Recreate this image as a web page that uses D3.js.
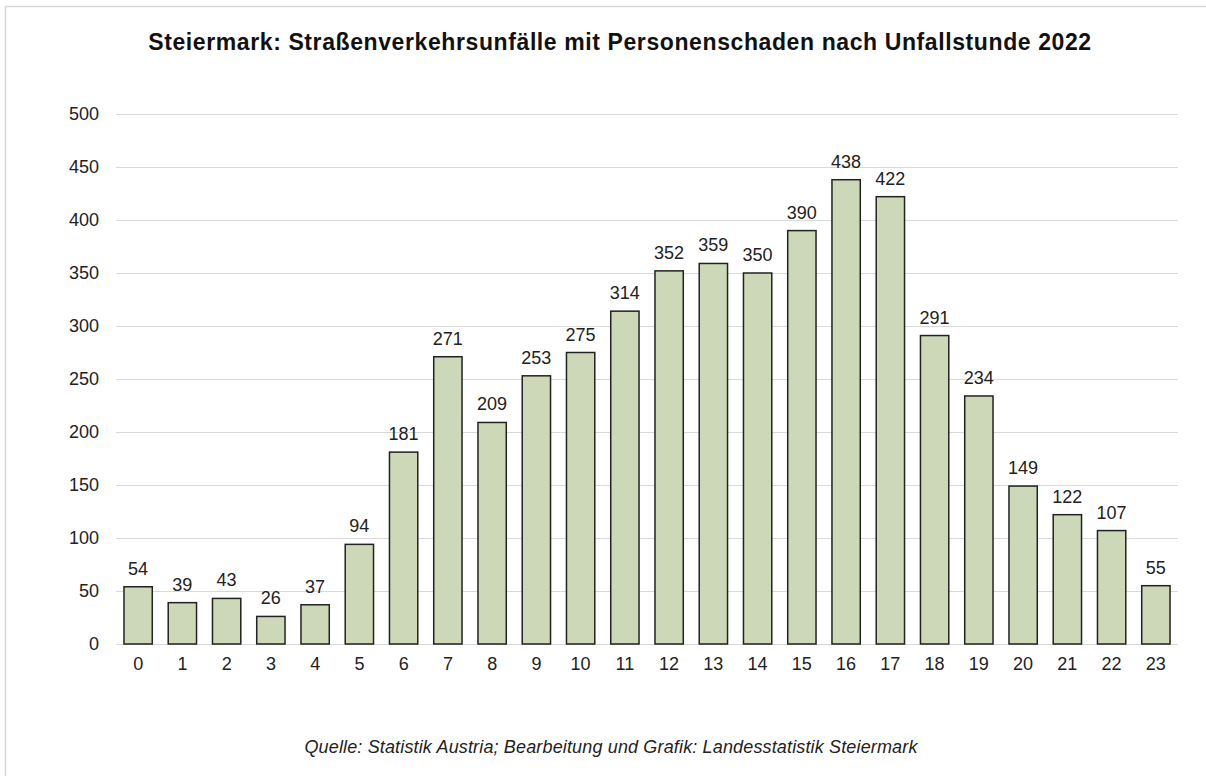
<!DOCTYPE html>
<html><head><meta charset="utf-8">
<script src="https://cdn.jsdelivr.net/npm/d3@7"></script>
<style>body{margin:0;background:#fff}svg{display:block}text{font-family:"Liberation Sans",Arial,sans-serif}</style>
</head><body>
<svg id="c" width="1206" height="776"></svg>
<script>
const hours = ["0","1","2","3","4","5","6","7","8","9","10","11","12","13","14","15","16","17","18","19","20","21","22","23"];
const accidents = [54,39,43,26,37,94,181,271,209,253,275,314,352,359,350,390,438,422,291,234,149,122,107,55];
const yTicks = [0,50,100,150,200,250,300,350,400,450,500];
const title = "Steiermark: Straßenverkehrsunfälle mit Personenschaden nach Unfallstunde 2022";
const source = "Quelle: Statistik Austria; Bearbeitung und Grafik: Landesstatistik Steiermark";

const svg = d3.select("#c");
svg.append("rect").attr("x",5.5).attr("y",6.5).attr("width",1220).attr("height",800)
  .attr("fill","#fff").attr("stroke","#d9d9d9").attr("stroke-width",1.5);

const x = d3.scaleBand().domain(hours).range([116,1178]).paddingInner(0.36).paddingOuter(0.18);
const y = d3.scaleLinear().domain([0,500]).range([644,114]);

const grid = svg.append("g");
grid.selectAll("line").data(yTicks).join("line")
  .attr("x1",116).attr("x2",1178).attr("y1",d=>Math.round(y(d))+0.5).attr("y2",d=>Math.round(y(d))+0.5)
  .attr("stroke","#d9d9d9").attr("stroke-width",1);

const yAxis = svg.append("g").attr("transform","translate(99,0)")
  .call(d3.axisLeft(y).tickValues(yTicks).tickSize(0).tickPadding(0));
yAxis.select(".domain").remove();
yAxis.selectAll("text").attr("font-size",18).attr("fill","#222").attr("font-family","Liberation Sans, Arial, sans-serif");

const xAxis = svg.append("g").attr("transform","translate(0,657)")
  .call(d3.axisBottom(x).tickSize(0).tickPadding(0));
xAxis.select(".domain").remove();
xAxis.selectAll("text").attr("font-size",18).attr("fill","#222").attr("dy","0.71em").attr("font-family","Liberation Sans, Arial, sans-serif");

svg.append("g").selectAll("rect").data(accidents).join("rect")
  .attr("x",(d,i)=>x(hours[i])).attr("width",x.bandwidth())
  .attr("y",d=>y(d)).attr("height",d=>y(0)-y(d))
  .attr("fill","#cdd8b8").attr("stroke","#222").attr("stroke-width",1.5);

svg.append("g").selectAll("text").data(accidents).join("text")
  .attr("x",(d,i)=>x(hours[i])+x.bandwidth()/2).attr("y",d=>y(d)-12)
  .attr("text-anchor","middle").attr("font-size",18).attr("fill","#222").text(d=>d);

svg.append("text").attr("x",620).attr("y",50).attr("text-anchor","middle")
  .attr("font-size",23).attr("font-weight","bold").attr("letter-spacing","0.6").attr("fill","#111").text(title);

svg.append("text").attr("x",611).attr("y",753).attr("text-anchor","middle")
  .attr("font-size",18).attr("font-style","italic").attr("letter-spacing","0.15").attr("fill","#222").text(source);
</script>
</body></html>
